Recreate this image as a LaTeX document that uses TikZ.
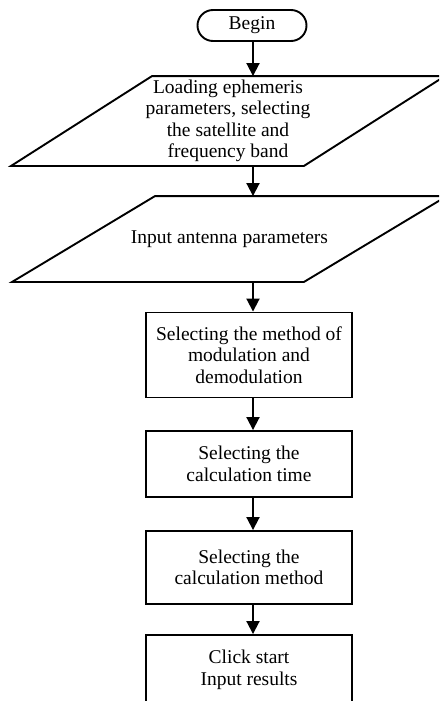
\documentclass[tikz,border=0pt]{standalone}
\usepackage{fontspec}
\setmainfont{Liberation Serif}
\usetikzlibrary{arrows.meta}

\begin{document}
\begin{tikzpicture}[x=1pt, y=-1pt, line width=1.9pt,
    font=\fontsize{19.5}{21.5}\selectfont,
    term_style/.style={draw, rectangle, rounded corners=15.5pt, minimum width=109pt, minimum height=31pt, inner sep=0pt},
    io_style/.style={rectangle, minimum width=291pt, align=center, inner sep=0pt},
    proc_style/.style={draw, rectangle, minimum width=206pt, align=center, inner sep=0pt},
    arrow_style/.style={draw=black, line width=1.9pt, -{Triangle[width=13pt,length=13pt]}}]

    \clip (0,0) rectangle (439,701);

    \coordinate (spine) at (253,0);

    \node[term_style] (begin) at (252,25.5) {Begin};
    \node[io_style, minimum height=88pt] (load) at (228,121)
        {Loading ephemeris\\parameters, selecting\\the satellite and\\frequency band};
    \node[io_style, minimum width=290pt, minimum height=84pt] (antenna) at (229.5,239)
        {Input antenna parameters};
    \node[proc_style, minimum height=85pt] (modul) at (249,355)
        {Selecting the method of\\modulation and\\demodulation};
    \node[proc_style, minimum height=66pt] (time) at (249,464)
        {Selecting the\\calculation time};
    \node[proc_style, minimum height=73pt] (method) at (249,567.5)
        {Selecting the\\calculation method};
    \node[proc_style, minimum height=70pt] (start) at (249,670)
        {Click start\\Input results};

    % slanted input boxes
    \draw ([xshift=70.5pt]load.north west) -- ([xshift=70.5pt]load.north east)
        -- ([xshift=-70.5pt]load.south east) -- ([xshift=-70.5pt]load.south west) -- cycle;
    \draw ([xshift=71.5pt]antenna.north west) -- ([xshift=71.5pt]antenna.north east)
        -- ([xshift=-71.5pt]antenna.south east) -- ([xshift=-71.5pt]antenna.south west) -- cycle;

    \draw[arrow_style] (begin.south -| spine) -- (load.north -| spine);
    \draw[arrow_style] (load.south -| spine) -- (antenna.north -| spine);
    \draw[arrow_style] (antenna.south -| spine) -- (modul.north -| spine);
    \draw[arrow_style] (modul.south -| spine) -- (time.north -| spine);
    \draw[arrow_style] (time.south -| spine) -- (method.north -| spine);
    \draw[arrow_style] (method.south -| spine) -- (start.north -| spine);
\end{tikzpicture}
\end{document}
